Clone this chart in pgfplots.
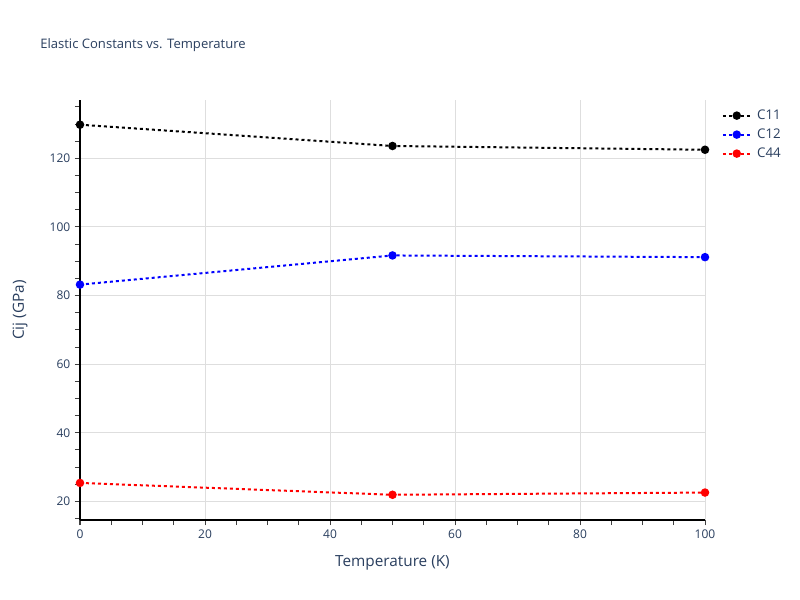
\documentclass[border=0pt]{standalone}
\usepackage{pgfplots}
\pgfplotsset{compat=1.18}
\usepackage{fontspec}
\setmainfont{Open Sans}
\definecolor{txt}{RGB}{42,63,95}
\definecolor{gridc}{RGB}{222,222,222}
\begin{document}
\begin{tikzpicture}
\path[use as bounding box, fill=white] (0pt,0pt) rectangle (600pt,450pt);
\node[anchor=west, font=\fontsize{9.8}{11}\selectfont, text=txt, inner sep=0pt] at (30pt,416pt) {Elastic Constants vs. Temperature};
\begin{axis}[at={(60pt,60pt)}, anchor=south west, width=468.75pt, height=315pt, scale only axis,
 xmin=0, xmax=100, ymin=14.6, ymax=137,
 axis x line*=bottom, axis y line*=left,
 axis line style={black, line width=0.75pt, -},
 xtick={0,20,...,100}, ytick={20,40,...,120},
 minor xtick={0,5,...,100}, minor ytick={15,20,...,135},
 tick align=outside, major tick length=3.75pt, minor tick length=3.75pt,
 every tick/.style={black!75, line width=0.75pt},
 xmajorgrids, ymajorgrids, major grid style={gridc, line width=0.75pt},
 /pgf/number format/assume math mode=true,
 ticklabel style={font=\fontsize{9}{11}\selectfont, text=txt},
 xlabel={Temperature (K)}, ylabel={Cij (GPa)},
 label style={font=\fontsize{11.5}{13}\selectfont, text=txt},
 xlabel style={at={(axis description cs:0.5,-0.1024)}, anchor=center},
 ylabel style={at={(axis description cs:-0.096,0.5)}, anchor=center},
 legend style={at={(axis description cs:1.02,0.99)}, anchor=north west, draw=none, fill=none,
   font=\fontsize{10}{12}\selectfont, text=txt, row sep=1.5pt, nodes={inner xsep=4pt}},
 legend cell align=left,
 legend image code/.code={\draw[mark repeat=2,mark phase=2] plot coordinates {(0pt,0pt) (10.5pt,0pt) (21pt,0pt)};},
 every axis plot/.append style={line width=1.5pt, dash pattern=on 2.25pt off 2.25pt, mark=*, mark size=2.4pt, mark options={solid}},
 clip=false,
]
\addplot[black] coordinates {(0,129.8) (50,123.6) (100,122.5)};
\addlegendentry{C11}
\addplot[blue] coordinates {(0,83.2) (50,91.7) (100,91.2)};
\addlegendentry{C12}
\addplot[red] coordinates {(0,25.4) (50,21.95) (100,22.6)};
\addlegendentry{C44}
\end{axis}
\end{tikzpicture}
\end{document}
